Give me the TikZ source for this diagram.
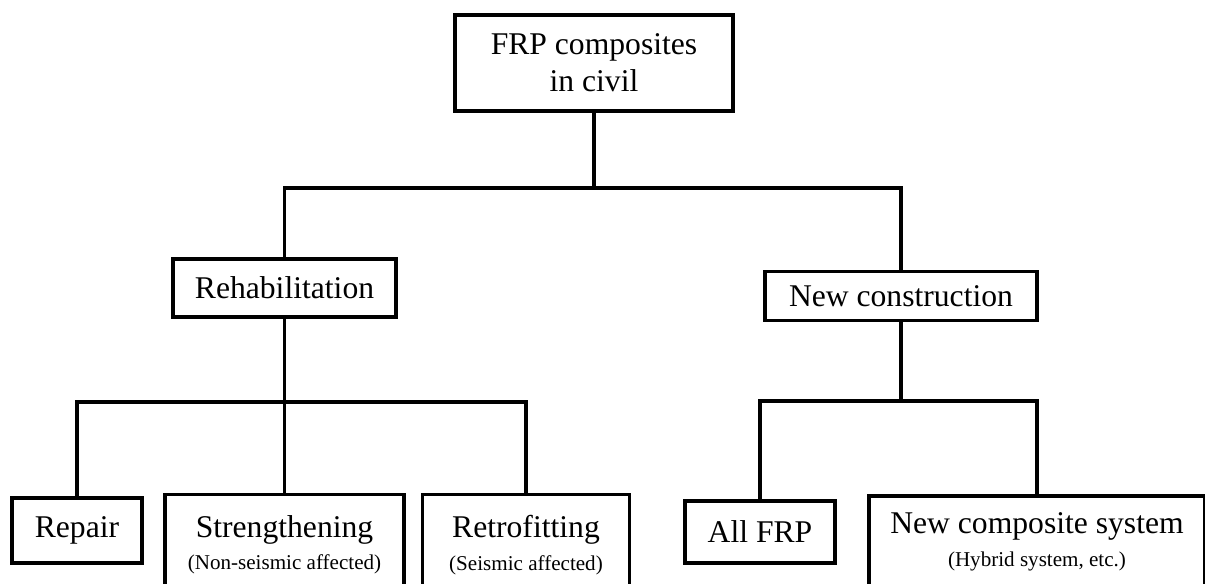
\documentclass[tikz,border=0pt]{standalone}
\usepackage{fontspec}
\setmainfont{Liberation Serif}
\usepackage{tikz}

\begin{document}
\begin{tikzpicture}[x=0.02cm, y=-0.02cm,
  box/.style={draw, rectangle, line width=2pt, inner sep=0pt, align=center, font=\fontsize{18}{18.5}\selectfont},
  link/.style={line width=2pt}]
\useasboundingbox (0,0) rectangle (1205,584);
\clip (0,0) rectangle (1205,584);

\node (top) [box, minimum width=5.56cm, minimum height=1.92cm, font=\fontsize{18}{21}\selectfont] at (594,63) {FRP composites\\in civil};
\node (rehab) [box, minimum width=4.46cm, minimum height=1.16cm] at (284.5,288) {Rehabilitation};
\node (newc) [box, minimum width=5.44cm, minimum height=0.98cm] at (901,296) {New construction};
\node (rep) [box, minimum width=2.6cm, minimum height=1.3cm] at (77,530.5) {Repair};
\node (str) [box, minimum width=4.78cm, minimum height=2.02cm] at (284.5,545) {Strengthening\\{\fontsize{12}{14}\selectfont (Non-seismic affected)}};
\node (ret) [box, minimum width=4.14cm, minimum height=2.02cm] at (526,545) {Retrofitting\\{\fontsize{12}{14}\selectfont (Seismic affected)}};
\node (all) [box, minimum width=3.0cm, minimum height=1.24cm] at (760,532) {All FRP};
\node (ncs) [box, minimum width=6.72cm, minimum height=1.84cm] at (1037,542) {New composite system\\{\fontsize{12}{14}\selectfont (Hybrid system, etc.)}};

\coordinate (s0) at (594,188);
\coordinate (s1) at (284.5,402);
\coordinate (s2) at (901,401);

\draw[link] (top.south) -- (s0);
\draw[link] (rehab.north) |- (s0) -| (newc.north);
\draw[link] (rehab.south) -- (s1);
\draw[link] (rep.north) |- (s1) -| (ret.north);
\draw[link] (s1) -- (str.north);
\draw[link] (newc.south) -- (s2);
\draw[link] (all.north) |- (s2) -| (ncs.north);

\end{tikzpicture}
\end{document}
